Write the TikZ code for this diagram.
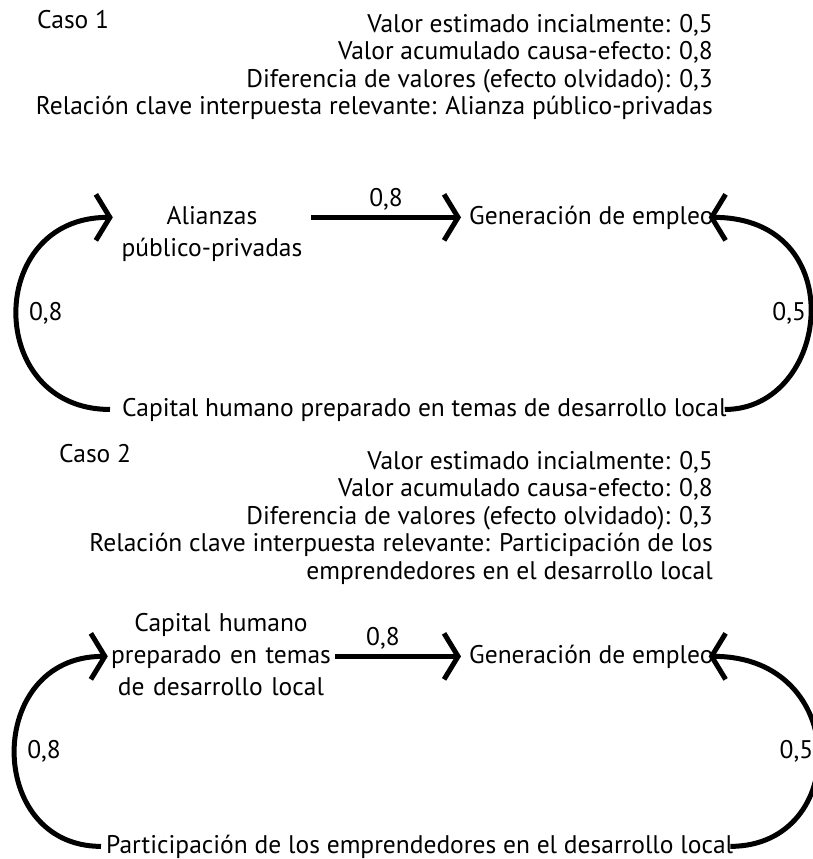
\documentclass[tikz,border=0pt]{standalone}
\usepackage{fontspec}
\setmainfont{PT Sans}
\usetikzlibrary{arrows.meta}
\begin{document}
\begin{tikzpicture}[x=1pt, y=-1pt,
  every node/.style={font=\fontsize{25.5}{27.5}\selectfont, inner sep=0pt},
  info node/.style={align=right, anchor=north east},
  main node/.style={text width=#1, align=center, anchor=base, font=\fontsize{25.5}{32}\selectfont},
  flow/.style={line width=5pt, -{Straight Barb[length=14pt, width=46pt]}},
  weight/.style={above=5pt}]
  \useasboundingbox (0,0) rectangle (813,859);

  % caso 1
  \node[anchor=base west] (caso1) at (37,29) {Caso 1};
  \node[info node] (info1) at (713,14) {Valor estimado incialmente: 0,5\\
    Valor acumulado causa-efecto: 0,8\\
    Diferencia de valores (efecto olvidado): 0,3\\
    Relación clave interpuesta relevante: Alianza público-privadas};
  \node[main node=198pt] (ali) at (212,224) {Alianzas\\público-privadas};
  \node[anchor=base west] (gen1) at (469,224) {Generación de empleo};
  \node[anchor=base west] (cap1) at (122,416) {Capital humano preparado en temas de desarrollo local};

  \draw[flow] (ali.east |- gen1.west) -- node[weight] {0,8} ([xshift=-8pt]gen1.west);
  \draw[flow] ([xshift=-12pt]cap1.west) .. controls +(-125,0) and +(-128,0) .. (ali.west |- gen1.west)
    node[pos=.5, right=10pt] {0,8};
  \draw[flow] ([xshift=-2pt]cap1.east) .. controls +(106,0) and +(144,0) .. ([xshift=-5pt]gen1.east)
    node[pos=.5, left=2pt] {0,5};

  % caso 2
  \node[anchor=base west] (caso2) at (59,462) {Caso 2};
  \node[info node] (info2) at (713,451) {Valor estimado incialmente: 0,5\\
    Valor acumulado causa-efecto: 0,8\\
    Diferencia de valores (efecto olvidado): 0,3\\
    Relación clave interpuesta relevante: Participación de los\\
    emprendedores en el desarrollo local};
  \node[main node=222pt] (cap2) at (221,631) {Capital humano\\preparado en temas\\de desarrollo local};
  \node[anchor=base west] (gen2) at (469,663) {Generación de empleo};
  \node[anchor=base west] (par) at (106,853) {Participación de los emprendedores en el desarrollo local};

  \draw[flow] ([xshift=3pt]cap2.east |- gen2.west) -- node[weight, pos=.38] {0,8} ([xshift=-8pt]gen2.west);
  \draw[flow] ([xshift=-5pt]par.west) .. controls +(-116,0) and +(-123,0) .. ([xshift=-2pt]cap2.west |- gen2.west)
    node[pos=.5, right=10pt] {0,8};
  \draw[flow] ([xshift=-3pt]par.east) .. controls +(120,0) and +(142,0) .. ([xshift=-5pt]gen2.east)
    node[pos=.5, left=2pt] {0,5};
\end{tikzpicture}
\end{document}
